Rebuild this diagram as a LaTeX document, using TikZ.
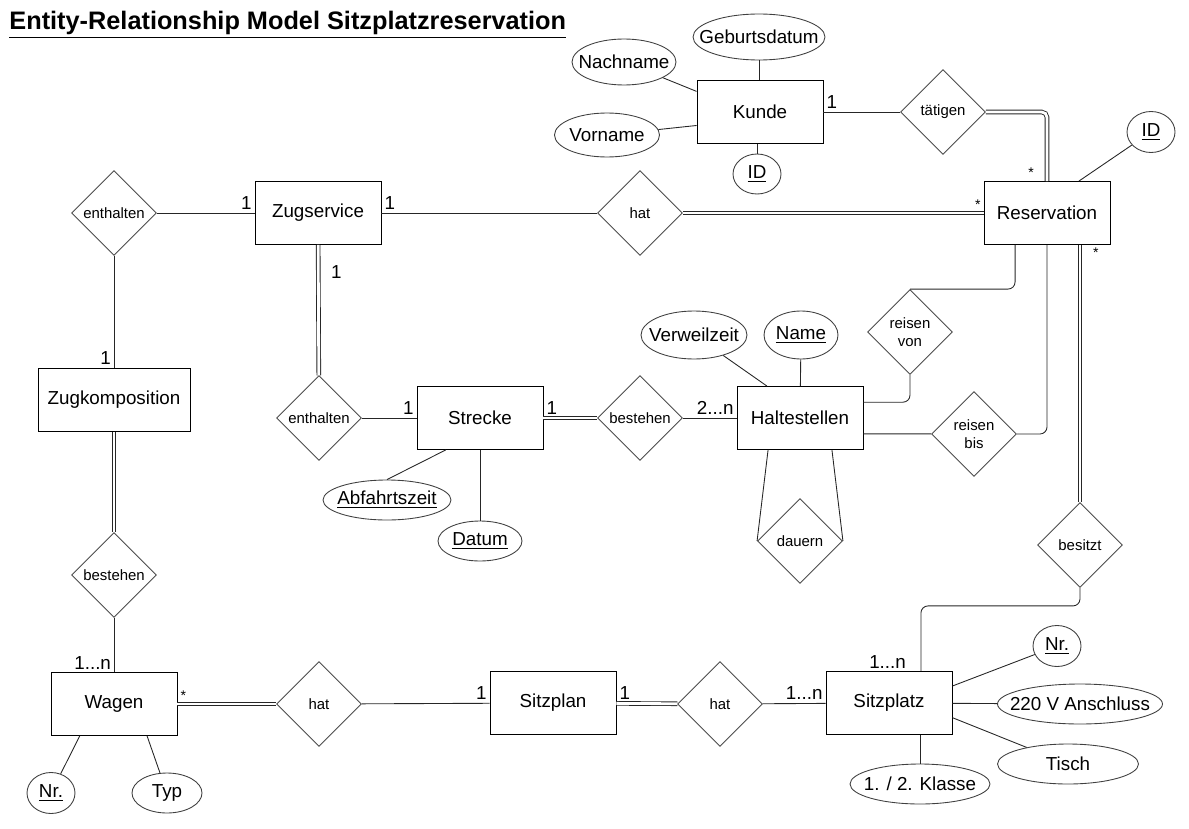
\documentclass[tikz,border=0pt]{standalone}
\usepackage{fontspec}
\setmainfont{Liberation Sans}
\usetikzlibrary{shapes.geometric, positioning, calc}
\tikzset{
  entity/.style={draw=black,rectangle,minimum width=2.52cm,minimum height=1.26cm,font=\fontsize{10.7}{12}\selectfont},
  rel/.style={draw=black!70,diamond,aspect=1,minimum size=1.7cm,inner sep=0pt,align=center,font=\fontsize{8.5}{10}\selectfont},
  attr/.style={draw=black!75,ellipse,inner xsep=-30pt,inner ysep=0pt,minimum height=0.8cm,font=\fontsize{10.7}{12}\selectfont},
  card/.style={inner sep=1.5pt,font=\fontsize{10.7}{12}\selectfont},
  star/.style={inner sep=1.5pt,font=\fontsize{8}{9}\selectfont},
  link/.style={draw=black!85},
  total/.style={draw=black!85,double=white,double distance=1.6pt},
}
\begin{document}
\begin{tikzpicture}[x=0.02cm,y=-0.02cm,line width=0.5pt]
\useasboundingbox (0,0) rectangle (1189,828);

\node[anchor=base west,inner sep=0pt,font=\fontsize{14.4}{16}\selectfont\bfseries] (titel) at (9,30) {\underline{Entity-Relationship Model Sitzplatzreservation}};

\node[entity] (kunde) at (760,112) {Kunde};
\node[entity] (zugservice) at (318,213) {Zugservice};
\node[entity] (reservation) at (1047,213) {Reservation};
\node[entity,minimum width=3.04cm] (zugkomp) at (114,400) {Zugkomposition};
\node[entity] (strecke) at (480,418) {Strecke};
\node[entity] (haltestellen) at (800,418) {Haltestellen};
\node[entity] (wagen) at (114,704) {Wagen};
\node[entity] (sitzplan) at (553,703) {Sitzplan};
\node[entity] (sitzplatz) at (889,703) {Sitzplatz};

\node[rel] (taetigen) at (943,112) {tätigen};
\node[rel] (hatres) at (640,213) {hat};
\node[rel] (enthaltenzk) at (114,213) {enthalten};
\node[rel] (enthaltenst) at (319,418) {enthalten};
\node[rel] (bestehenhs) at (640,418) {bestehen};
\node[rel] (reisenvon) at (910,332) {reisen\\von};
\node[rel] (reisenbis) at (974,434) {reisen\\bis};
\node[rel] (dauern) at (800,541) {dauern};
\node[rel] (besitzt) at (1080,545) {besitzt};
\node[rel] (bestehenwg) at (114,575) {bestehen};
\node[rel] (hatsp) at (319,704) {hat};
\node[rel] (hatsz) at (720,704) {hat};

\node[attr,minimum width=2.64cm,minimum height=0.92cm] (geburt) at (759,37) {Geburtsdatum};
\node[attr,minimum width=2.08cm,minimum height=0.92cm] (nachname) at (624,62) {Nachname};
\node[attr,minimum width=2.1cm,minimum height=0.88cm] (vorname) at (607,135) {Vorname};
\node[attr,minimum width=0.96cm] (kundeid) at (757,174) {\underline{ID}};
\node[attr,minimum width=0.96cm,minimum height=0.82cm] (resid) at (1151,132) {\underline{ID}};
\node[attr,minimum width=2.12cm,minimum height=0.96cm] (verweil) at (694,335) {Verweilzeit};
\node[attr,minimum width=1.48cm,minimum height=0.96cm] (name) at (801,335) {\underline{Name}};
\node[attr,minimum width=2.56cm] (abfahrt) at (387,500) {\underline{Abfahrtszeit}};
\node[attr,minimum width=1.68cm] (datum) at (480,541) {\underline{Datum}};
\node[attr,minimum width=0.96cm,minimum height=0.82cm] (wagennr) at (51,793) {\underline{Nr.}};
\node[attr,minimum width=1.4cm] (typ) at (167,793) {Typ};
\node[attr,minimum width=0.96cm,minimum height=0.82cm] (platznr) at (1057,646) {\underline{Nr.}};
\node[attr,minimum width=3.3cm] (anschluss) at (1080,704) {220 V Anschluss};
\node[attr,minimum width=2.82cm] (tisch) at (1068,764) {Tisch};
\node[attr,minimum width=2.8cm] (klasse) at (920,784) {1. / 2. Klasse};

\draw[link] (geburt) -- (geburt |- kunde.north);
\draw[link] (nachname) -- (kunde.162);
\draw[link] (vorname) -- (kunde.192);
\draw[link] (kundeid) -- (kundeid |- kunde.south);
\draw[link] (kunde) -- (taetigen);
\draw[total,rounded corners=3pt] (taetigen.east) -| (reservation.north);
\draw[link] (reservation.45) -- (resid);

\draw[link] (zugservice) -- (hatres);
\draw[total] (hatres) -- (reservation);
\draw[link] (enthaltenzk) -- (zugservice);
\draw[link] (enthaltenzk) -- (zugkomp);
\draw[total] (zugkomp) -- (bestehenwg);
\draw[link] (bestehenwg) -- (wagen);
\draw[total] (zugservice) -- (enthaltenst);
\draw[link] (enthaltenst) -- (strecke);
\draw[total] (strecke) -- (bestehenhs);
\draw[link] (bestehenhs) -- (haltestellen);
\draw[link] (strecke.223) -- (abfahrt.north);
\draw[link] (strecke) -- (datum);
\draw[link] (verweil) -- (haltestellen.136);
\draw[link] (name) -- (haltestellen);
\draw[link,rounded corners=4pt] (haltestellen.14) -| (reisenvon.south);
\draw[link,rounded corners=4pt] (reisenvon.north) -| (reservation.225);
\draw[link] (haltestellen.346) -- (reisenbis);
\draw[link,rounded corners=4pt] (reisenbis.east) -| (reservation.south);
\draw[link] (haltestellen.225) -- (dauern.west);
\draw[link] (haltestellen.315) -- (dauern.east);
\draw[total] (besitzt.north |- reservation.south) -- (besitzt.north);
\draw[link,rounded corners=4pt] (besitzt.south) -- ++(0,18) -| (sitzplatz.45);

\draw[total] (wagen) -- (hatsp);
\draw[link] (hatsp) -- (sitzplan);
\draw[total] (sitzplan) -- (hatsz);
\draw[link] (hatsz) -- (sitzplatz);
\draw[link] (wagen.223) -- (wagennr);
\draw[link] (wagen.316) -- (typ);
\draw[link] (sitzplatz.15) -- (platznr);
\draw[link] (sitzplatz) -- (anschluss);
\draw[link] (sitzplatz.347) -- (tisch);
\draw[link] (klasse.north |- sitzplatz.south) -- (klasse.north);

\node[card,above right] at (kunde.east) {1};
\node[star,above left] at ([xshift=-0.2cm]reservation.north) {*};
\node[card,above right] at (zugservice.east) {1};
\node[star,above left] at (reservation.west) {*};
\node[card,above left] at (zugservice.west) {1};
\node[card,above left] at (zugkomp.north) {1};
\node[card,above left] at (wagen.north) {1...n};
\node[card,anchor=north west] at ([xshift=0.2cm,yshift=-0.36cm]zugservice.south) {1};
\node[card,above left] at (strecke.west) {1};
\node[card,above right] at (strecke.east) {1};
\node[card,above left] at (haltestellen.west) {2...n};
\node[star,below right] at ([xshift=0.2cm]besitzt.north |- reservation.south) {*};
\node[card,above left] at ([xshift=-0.24cm]sitzplatz.45) {1...n};
\node[star,above right] at (wagen.east) {*};
\node[card,above left] at (sitzplan.west) {1};
\node[card,above right] at (sitzplan.east) {1};
\node[card,above left] at (sitzplatz.west) {1...n};

\end{tikzpicture}
\end{document}
